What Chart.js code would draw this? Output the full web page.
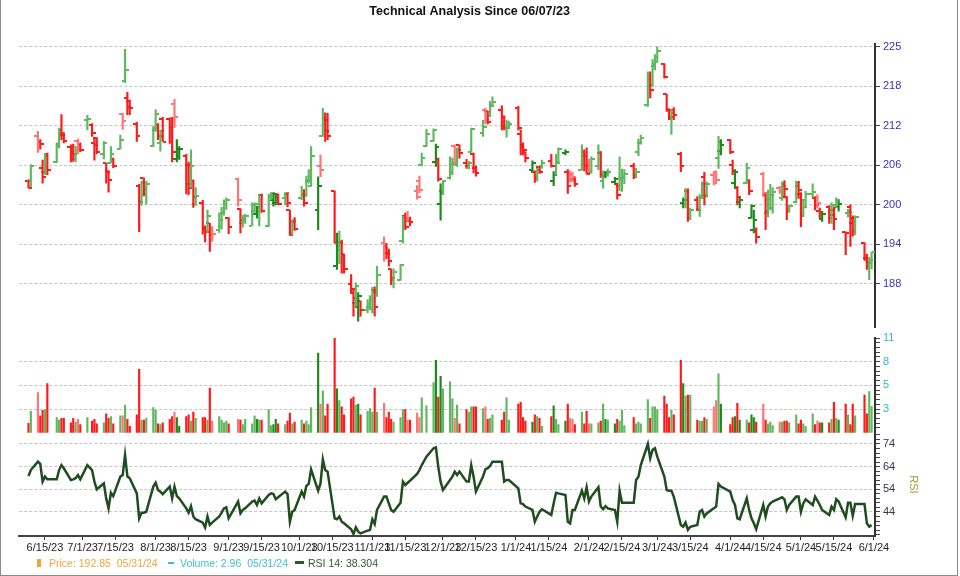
<!DOCTYPE html>
<html>
<head>
<meta charset="utf-8">
<script src="https://cdn.jsdelivr.net/npm/chart.js@4.4.1/dist/chart.umd.min.js"></script>
<style>
body { margin:0; background:#fff; }
#page { position:relative; width:960px; height:576px; overflow:hidden; font-family:"Liberation Sans", Arial, sans-serif; }
#frame { position:absolute; left:0; top:0; width:958px; height:576px; box-sizing:border-box; border-left:1px solid #8a8a8a; border-right:1px solid #8a8a8a; border-bottom:1px solid #8a8a8a; pointer-events:none; }
canvas { position:absolute; left:0; }
.lg { position:absolute; top:557px; font-size:10.5px; white-space:pre; line-height:12px; }
.mk { position:absolute; }
</style>
</head>
<body>
<div id="page">
  <canvas id="priceChart" width="960" height="332" style="top:0"></canvas>
  <canvas id="volChart" width="960" height="103" style="top:332px"></canvas>
  <canvas id="rsiChart" width="960" height="144" style="top:432px"></canvas>
  <div class="mk" style="left:37px;top:559px;width:4px;height:8px;background:#f2a43c"></div>
  <div class="lg" id="lgPrice" style="left:49px;color:#f2a43c"></div>
  <div class="mk" style="left:168px;top:562px;width:6px;height:2px;background:#3fbfcf"></div>
  <div class="lg" id="lgVol" style="left:180px;color:#3fbfcf"></div>
  <div class="mk" style="left:295px;top:561px;width:9px;height:3px;background:#2c5a2c"></div>
  <div class="lg" id="lgRsi" style="left:308px;color:#2c5a2c"></div>
  <div id="frame"></div>
</div>
<script>
// trading calendar
var firstDay = '2023-06-08';
var lastDay = '2024-05-31';
var holidays = ['2023-06-19', '2023-07-04', '2023-09-04', '2023-11-23', '2023-12-25',
	'2024-01-01', '2024-01-15', '2024-02-19', '2024-03-29', '2024-05-27'];

// x axis labels
var xTickDates = ['2023-06-15', '2023-07-01', '2023-07-15', '2023-08-01', '2023-08-15', '2023-09-01',
	'2023-09-15', '2023-10-01', '2023-10-15', '2023-11-01', '2023-11-15', '2023-12-01', '2023-12-15',
	'2024-01-01', '2024-01-15', '2024-02-01', '2024-02-15', '2024-03-01', '2024-03-15', '2024-04-01',
	'2024-04-15', '2024-05-01', '2024-05-15', '2024-06-01'];

// right axis ticks
var priceTicks = [188, 194.17, 200.33, 206.5, 212.67, 218.83, 225];
var priceTickLabels = ['188', '194', '200', '206', '212', '218', '225'];
var volTicks = [2.65, 5.3, 7.95, 10.6];
var volTickLabels = ['3', '5', '8', '11'];
var rsiTicks = [44, 54, 64, 74];
var rsiTickLabels = ['44', '54', '64', '74'];

var opens = [
	204.1, 204.0, 211.0, 210.2, 206.0, 205.5, 208.3, 207.0, 209.8, 212.0, 211.2, 209.4, 209.4, 207.5, 210.3, 209.7,
	213.5, 212.8, 210.0, 210.7, 208.3, 206.8, 205.6, 206.8, 207.5, 209.1, 214.5, 219.6, 217.0, 216.6, 213.0, 203.3, 200.9, 204.5, 202.0, 209.5,
	212.0, 212.8, 210.0, 213.8, 213.8, 212.5, 216.0, 207.5, 208.0, 208.0, 206.5, 203.5, 204.0, 200.5, 200.6, 196.7, 196.2, 197.4, 196.5, 196.3, 197.0, 199.0, 200.4,
	198.3, 204.4, 199.6, 197.5, 198.0, 197.0, 199.4, 198.8, 199.4, 201.9, 197.0, 201.6, 201.0, 200.6, 202.0, 201.4, 202.0, 199.5, 195.9, 197.6,
	201.4, 202.0, 201.8, 204.0, 203.2, 199.5, 206.3, 211.0, 213.9, 213.5, 202.4, 190.7, 193.2, 194.5, 192.6, 187.9, 186.5, 185.0, 184.4, 185.2, 183.8, 184.4,
	184.0, 187.0, 187.0, 194.3, 193.9, 192.8, 190.2, 188.5, 188.6, 194.6, 198.5, 198.3, 197.8, 202.5, 204.0, 206.5, 209.5, 210.3, 207.0, 207.5, 200.5,
	202.4, 204.5, 205.5, 209.5, 206.5, 209.7, 206.9, 206.3, 208.6, 208.3, 206.0, 211.5, 215.1, 214.9, 214.2, 215.9, 215.2, 214.0, 212.3, 212.4,
	215.5, 211.3, 209.6, 208.5, 205.8, 205.5, 204.3, 206.2, 206.2, 207.1, 204.0, 205.0, 207.0, 208.4, 205.5, 205.5, 205.2, 204.3, 205.8, 208.4, 208.0,
	206.6, 205.5, 206.3, 208.4, 204.0, 204.8, 205.2, 203.9, 203.5, 203.2, 204.5, 204.5, 206.4, 204.9, 208.6, 210.0, 215.9, 220.0, 219.0, 222.0,
	222.7, 222.4, 217.6, 215.3, 213.8, 215.2, 208.3, 200.6, 200.4, 202.5, 198.2, 201.1, 199.6, 201.6, 204.7, 201.8, 205.0, 205.5, 207.6, 208.7,
	210.4, 206.6, 203.7, 203.0, 200.8, 203.7, 204.2, 198.3, 196.4, 196.2, 205.2, 201.8, 199.0, 200.5, 199.8, 202.9, 201.4, 203.6, 201.5, 199.4, 200.8, 203.3,
	202.0, 199.0, 201.0, 202.0, 201.3, 201.5, 199.4, 198.1, 199.9, 198.2, 199.5, 199.8, 200.0, 196.0, 199.1, 200.0, 197.5, 196.0, 194.3, 192.0, 190.8, 191.2
];
var highs = [
	204.2, 206.6, 211.8, 210.5, 207.3, 208.3, 208.4, 210.0, 212.3, 214.4, 211.6, 209.7, 209.8, 209.5, 210.6, 210.0,
	214.3, 213.0, 210.7, 210.8, 210.2, 206.8, 205.6, 209.4, 207.6, 211.2, 214.6, 224.6, 217.9, 216.7, 213.2, 203.5, 204.0, 204.5, 204.0, 212.6,
	215.2, 213.0, 212.0, 214.0, 213.9, 214.0, 216.8, 210.5, 209.4, 208.2, 207.0, 208.9, 204.2, 203.0, 201.0, 197.0, 199.5, 197.4, 196.9, 199.0, 199.9, 201.1, 201.4,
	198.3, 204.5, 199.7, 198.7, 198.8, 200.6, 200.6, 200.1, 202.0, 202.0, 202.0, 202.2, 202.1, 201.9, 202.0, 202.2, 202.1, 199.5, 198.0, 198.3,
	203.2, 202.7, 204.8, 205.8, 209.4, 204.7, 208.1, 215.4, 214.7, 214.6, 202.5, 195.9, 196.2, 194.8, 192.6, 189.4, 187.3, 188.1, 186.6, 185.3, 185.5, 186.1,
	187.4, 187.5, 190.7, 195.3, 194.3, 193.4, 190.3, 190.3, 191.0, 198.5, 199.0, 199.3, 198.4, 203.3, 204.8, 208.4, 212.1, 212.2, 209.8, 207.6, 203.6,
	204.1, 207.8, 207.6, 209.7, 209.2, 209.7, 207.4, 207.1, 212.3, 208.4, 206.4, 213.5, 215.4, 215.0, 216.5, 217.2, 215.8, 214.2, 213.5, 213.4,
	215.7, 212.0, 210.0, 208.6, 207.2, 205.6, 206.0, 206.4, 207.3, 208.2, 205.5, 208.2, 209.2, 208.9, 205.8, 205.6, 205.4, 204.5, 209.7, 208.9, 209.2,
	207.4, 207.8, 209.7, 208.6, 205.6, 205.5, 205.9, 204.6, 203.7, 207.8, 205.9, 205.8, 206.8, 206.0, 210.6, 211.2, 221.1, 221.1, 223.0, 223.8,
	225.0, 222.4, 217.6, 215.3, 215.2, 215.5, 208.5, 201.4, 202.9, 202.8, 199.8, 201.6, 201.9, 203.9, 205.4, 203.9, 205.3, 205.6, 211.0, 210.5,
	210.5, 207.3, 205.8, 203.2, 201.4, 206.8, 204.2, 200.3, 199.5, 196.7, 205.4, 202.0, 202.6, 203.5, 203.0, 203.2, 203.9, 204.1, 201.6, 200.3, 204.0, 203.9,
	202.2, 201.1, 202.4, 203.6, 201.5, 201.9, 199.8, 199.3, 200.2, 200.6, 200.0, 201.4, 200.9, 196.1, 199.6, 200.3, 198.6, 198.6, 194.4, 192.6, 192.1, 192.9
];
var lows = [
	202.9, 203.1, 208.5, 209.0, 203.7, 205.0, 205.0, 206.9, 209.2, 210.5, 210.0, 207.0, 207.1, 207.0, 208.3, 208.6,
	212.0, 211.0, 207.3, 208.3, 207.5, 203.7, 202.3, 206.8, 206.1, 209.0, 212.1, 219.4, 214.4, 214.4, 210.2, 196.1, 200.2, 201.7, 200.4, 209.4,
	211.8, 210.5, 208.7, 210.2, 209.9, 207.0, 212.4, 207.0, 207.4, 202.0, 201.9, 203.0, 199.9, 200.2, 195.7, 194.5, 196.0, 193.0, 194.6, 196.0, 196.5, 198.7, 199.6,
	195.8, 200.1, 195.9, 196.8, 197.4, 197.0, 199.1, 198.2, 197.0, 199.1, 196.9, 201.1, 200.1, 200.3, 200.3, 200.3, 200.0, 195.5, 195.6, 196.3,
	201.1, 200.1, 201.6, 203.7, 203.2, 196.4, 204.7, 211.0, 210.2, 210.5, 194.3, 190.2, 191.1, 189.6, 189.6, 186.6, 182.9, 184.4, 182.1, 182.9, 183.4, 184.0,
	183.4, 182.9, 186.0, 191.5, 191.9, 190.7, 187.8, 187.3, 188.5, 194.3, 196.4, 197.7, 197.0, 201.2, 202.2, 206.4, 209.4, 210.2, 206.3, 204.0, 197.9,
	201.9, 204.3, 205.0, 206.7, 206.3, 207.6, 206.0, 205.9, 208.5, 205.3, 204.8, 211.0, 213.0, 212.9, 214.1, 215.7, 212.0, 212.0, 210.9, 212.2,
	212.0, 208.1, 208.1, 207.0, 205.4, 203.8, 204.0, 205.2, 206.0, 206.2, 203.3, 205.0, 206.9, 208.1, 202.1, 203.9, 203.9, 203.2, 205.7, 205.6, 205.1,
	205.5, 205.2, 205.8, 204.6, 202.9, 204.5, 204.8, 203.7, 201.2, 202.5, 202.4, 203.6, 204.4, 204.6, 208.0, 209.8, 215.7, 217.0, 218.8, 221.4,
	222.6, 220.1, 214.9, 213.6, 211.3, 213.6, 205.5, 199.8, 199.8, 197.7, 198.0, 199.4, 198.5, 201.3, 200.3, 201.5, 203.4, 203.9, 206.0, 208.1,
	208.3, 205.0, 202.9, 200.3, 199.8, 203.6, 201.9, 198.2, 195.9, 194.3, 201.6, 196.4, 198.4, 199.5, 199.0, 202.1, 201.0, 201.4, 198.0, 199.1, 200.6, 201.3,
	196.9, 198.5, 199.8, 201.5, 199.5, 199.8, 198.2, 197.7, 197.4, 197.4, 196.4, 199.8, 199.3, 192.5, 198.4, 193.8, 195.4, 195.6, 191.6, 190.2, 188.6, 190.3
];
var closes = [
	203.0, 206.4, 210.2, 209.8, 204.6, 208.0, 205.8, 209.7, 211.5, 211.2, 210.3, 208.6, 208.2, 208.8, 209.1, 208.8,
	213.7, 211.5, 209.7, 208.5, 209.9, 205.5, 204.2, 208.2, 206.3, 210.4, 213.4, 221.4, 215.6, 215.5, 211.1, 200.7, 203.7, 202.7, 203.5, 212.3,
	214.5, 211.0, 211.8, 210.2, 210.1, 208.6, 214.0, 209.0, 209.0, 206.5, 203.0, 206.4, 201.5, 201.7, 196.4, 196.0, 198.6, 195.6, 195.8, 198.0, 199.0, 200.4, 201.0,
	196.9, 201.0, 197.9, 198.2, 198.6, 200.3, 200.5, 199.9, 201.9, 199.4, 201.7, 202.1, 202.0, 201.5, 200.5, 202.1, 200.6, 195.6, 197.7, 196.6,
	201.7, 200.6, 204.2, 204.6, 207.9, 203.2, 205.8, 212.8, 211.8, 211.0, 194.4, 193.8, 194.3, 192.5, 190.3, 187.1, 185.7, 187.6, 186.1, 183.8, 184.8, 185.6,
	186.7, 184.4, 189.4, 193.6, 192.6, 191.5, 188.9, 189.8, 190.9, 198.2, 196.8, 197.9, 197.6, 201.5, 202.6, 207.6, 211.4, 212.0, 209.3, 204.3, 202.1,
	204.1, 206.7, 206.8, 207.0, 208.8, 208.4, 206.3, 206.8, 212.2, 206.1, 205.3, 212.4, 213.6, 213.3, 215.7, 216.4, 212.6, 212.3, 212.9, 213.0,
	212.3, 209.3, 208.8, 207.7, 206.8, 204.6, 205.8, 205.4, 206.9, 206.4, 204.9, 206.8, 209.1, 208.6, 203.2, 204.2, 204.6, 203.5, 208.5, 206.4, 205.2,
	205.6, 207.5, 208.6, 205.2, 205.4, 205.3, 205.5, 204.4, 201.8, 204.3, 204.7, 205.1, 204.7, 205.5, 210.0, 210.8, 220.5, 218.2, 222.4, 223.4,
	224.3, 220.3, 215.2, 214.0, 214.7, 214.3, 206.3, 201.0, 202.3, 198.2, 199.5, 199.5, 201.4, 203.5, 201.7, 203.6, 203.7, 204.2, 210.2, 209.7,
	208.5, 205.6, 205.5, 201.6, 201.1, 206.0, 202.4, 200.1, 197.9, 195.3, 202.1, 199.4, 201.2, 201.8, 202.3, 202.5, 203.3, 202.8, 199.5, 200.1, 203.8, 202.6,
	198.6, 200.0, 202.0, 202.3, 200.3, 200.6, 199.0, 198.9, 198.7, 200.3, 198.1, 201.0, 200.5, 195.9, 199.2, 198.2, 196.2, 198.4, 191.8, 191.3, 191.6, 192.85
];
var volumes = [
	1.05, 2.4, 4.5, 1.9, 2.5, 2.6, 5.5, 1.7, 1.4, 1.6, 1.6, 1.1, 1.6, 1.2, 1.5, 0.9,
	1.7, 1.3, 1.5, 1.0, 1.1, 2.1, 1.6, 1.8, 1.0, 1.9, 1.9, 3.1, 1.5, 0.7, 2.0, 7.1, 1.4, 1.4, 1.6, 2.8,
	2.5, 1.0, 0.9, 1.1, 1.5, 1.8, 2.3, 1.7, 0.7, 1.8, 2.0, 1.3, 2.3, 1.6, 1.7, 1.7, 1.4, 5.0, 1.3, 1.8, 1.4, 1.1, 1.3,
	1.0, 1.5, 1.4, 0.9, 1.5, 1.0, 1.9, 1.5, 1.4, 1.4, 2.6, 0.8, 0.9, 1.5, 1.0, 0.9, 1.3, 2.2, 1.0, 1.2,
	1.4, 1.0, 1.3, 0.9, 2.8, 8.9, 3.2, 4.7, 1.9, 3.2, 10.7, 4.9, 3.6, 2.9, 2.0, 3.8, 4.0, 3.1, 3.2, 2.0, 2.4, 2.7,
	2.3, 5.0, 2.3, 3.3, 1.7, 2.3, 1.5, 1.2, 1.7, 2.6, 2.6, 1.4, 1.4, 2.2, 1.7, 3.9, 3.0, 5.6, 8.1, 4.0, 6.3,
	4.9, 5.7, 3.8, 1.6, 3.1, 1.0, 2.6, 2.3, 2.9, 2.9, 2.9, 2.7, 2.9, 1.5, 1.6, 2.0, 1.4, 2.3, 3.9, 1.4,
	3.2, 3.4, 1.7, 1.3, 1.2, 2.0, 1.8, 1.6, 0.7, 1.8, 3.0, 1.5, 0.9, 1.3, 3.2, 1.6, 1.5, 0.9, 2.3, 1.0, 2.4,
	1.0, 1.0, 1.1, 1.3, 3.2, 1.5, 1.4, 1.0, 1.5, 1.3, 2.5, 0.8, 1.7, 1.0, 1.2, 1.0, 3.7, 1.6, 2.9, 2.9,
	2.6, 4.1, 3.2, 1.7, 2.5, 2.0, 8.1, 5.5, 4.1, 4.2, 4.2, 1.4, 1.3, 1.3, 1.7, 1.5, 2.9, 3.6, 6.6, 3.2,
	0.9, 1.7, 1.8, 3.3, 1.4, 1.4, 1.1, 2.0, 1.7, 1.2, 3.2, 1.4, 1.0, 1.2, 0.8, 1.2, 1.2, 1.3, 1.3, 1.1, 2.0, 1.0,
	1.4, 1.0, 0.7, 2.1, 0.9, 1.3, 1.1, 1.1, 1.1, 1.5, 3.4, 1.6, 1.4, 3.2, 2.0, 0.9, 3.2, 1.9, 4.2, 2.1, 4.6, 2.96
];
var rsi14 = [
	59.9, 62.5, 66.2, 65.2, 57.4, 59.6, 58.4, 58.4, 62.5, 64.7, 63.3, 58.1, 58.4, 58.9, 60.3, 58.4,
	64.7, 62.5, 57.4, 54.0, 56.6, 50.0, 45.6, 52.5, 51.0, 59.6, 60.3, 69.1, 59.6, 58.9, 52.2, 41.2, 43.7, 43.7, 44.1, 55.2,
	56.9, 53.7, 53.0, 51.9, 55.2, 50.0, 55.2, 51.0, 50.0, 45.6, 43.7, 46.6, 42.0, 40.8, 39.3, 37.2, 42.0, 38.3, 39.3, 42.0, 43.7, 45.6, 46.1,
	41.2, 48.6, 43.4, 44.9, 45.6, 48.6, 49.0, 47.1, 50.0, 47.8, 51.5, 52.2, 51.9, 49.6, 50.5, 53.0, 51.9, 39.7, 44.1, 44.9,
	53.0, 50.8, 55.5, 56.4, 62.8, 53.4, 56.6, 67.2, 62.5, 61.8, 41.2, 40.8, 42.0, 39.7, 39.0, 36.4, 34.3, 37.2, 35.3, 34.6, 35.8, 36.1,
	40.8, 38.7, 44.9, 50.8, 50.8, 47.8, 44.9, 44.1, 48.1, 57.4, 55.9, 56.9, 57.8, 60.8, 62.5, 64.7, 68.4, 72.1, 72.5, 64.0, 57.4,
	53.7, 58.1, 59.6, 61.8, 60.3, 61.8, 57.4, 57.4, 64.7, 59.6, 53.0, 59.6, 62.8, 63.3, 64.3, 66.2, 66.2, 57.4, 58.1, 58.1,
	54.4, 47.8, 47.5, 46.4, 44.9, 39.7, 42.0, 44.1, 45.2, 42.7, 47.8, 52.5, 52.2, 51.5, 39.7, 39.0, 44.9, 44.9, 53.4, 50.0, 54.9,
	48.6, 50.8, 54.9, 46.4, 45.2, 46.6, 45.6, 44.9, 39.7, 53.4, 48.1, 48.1, 48.1, 58.1, 59.6, 64.7, 74.0, 67.7, 71.4, 72.1,
	68.4, 59.6, 53.7, 53.4, 53.4, 50.8, 38.3, 37.5, 39.3, 36.1, 37.5, 38.3, 44.1, 44.9, 42.0, 43.4, 45.6, 46.4, 56.4, 55.2,
	53.0, 49.3, 47.1, 41.2, 40.8, 50.0, 44.9, 41.2, 39.0, 36.4, 47.1, 42.0, 46.4, 47.8, 48.6, 50.0, 50.5, 49.6, 44.9, 47.1, 50.8, 50.8,
	44.1, 47.8, 49.6, 47.1, 50.8, 49.0, 47.1, 44.9, 42.7, 46.4, 44.9, 49.6, 48.6, 41.6, 48.1, 48.1, 42.3, 47.5, 47.5, 39.0, 37.5, 38.304
];

var GREEN = '#1b8a1b', GREEN_LT = '#5fb85f', RED = '#ff1a1a', RED_LT = '#ff7474';
var FONT = '"Liberation Sans", Arial, sans-serif';

// build trading days
var tradeDates = [];
for (var t = Date.parse(firstDay); t <= Date.parse(lastDay); t += 864e5) {
	var d = new Date(t);
	var iso = d.toISOString().slice(0, 10);
	if (d.getUTCDay() == 0 || d.getUTCDay() == 6 || holidays.indexOf(iso) >= 0) continue;
	tradeDates.push(iso);
}
var origin = Date.parse('2023-06-15');
function dayOf(iso) { return (Date.parse(iso) - origin) / 864e5; }
function shortDate(iso) {
	var p = iso.split('-');
	return (+p[1]) + '/' + (+p[2]) + '/' + p[0].slice(2);
}
var days = tradeDates.map(dayOf);
var xMin = -10.9, xMax = 352.45;

var xLabelOf = {};
xTickDates.forEach(function(s) { xLabelOf[dayOf(s)] = shortDate(s); });

// colours: red/green by open vs close, paler when the close is above the day before
var barColors = closes.map(function(c, i) {
	var up = c >= opens[i];
	var light = i > 0 && c > closes[i - 1];
	return up ? (light ? GREEN_LT : GREEN) : (light ? RED_LT : RED);
});

function tickImage(color, left) {
	var c = document.createElement('canvas');
	c.width = 7; c.height = 2;
	var g = c.getContext('2d');
	g.fillStyle = color;
	g.fillRect(left ? 0 : 4, 0, 3, 2);
	return c;
}
var tickImgs = {};
[GREEN, GREEN_LT, RED, RED_LT].forEach(function(col) {
	tickImgs[col] = { open: tickImage(col, true), close: tickImage(col, false) };
});

function minorTicks(from, to, step) {
	var out = [];
	for (var v = from; v <= to + 1e-6; v += step) out.push(+v.toFixed(3));
	return out;
}

function rightAxis(min, max, major, labels, color, minor, gridSkipTop) {
	var all = major.concat(minor.filter(function(v) {
		return major.every(function(m) { return Math.abs(m - v) > 0.05; });
	}));
	return {
		type: 'linear',
		position: 'right',
		min: min,
		max: max,
		afterFit: function(s) {
			s.width = 45;
			s.paddingTop = 0;
			s.paddingBottom = 0;
		},
		afterBuildTicks: function(s) {
			s.ticks = all.map(function(v) { return { value: v }; }).sort(function(a, b) { return a.value - b.value; });
		},
		ticks: {
			autoSkip: false,
			padding: 3,
			color: color,
			font: { family: FONT, size: 11 },
			callback: function(v) {
				var k = major.indexOf(v);
				return k >= 0 ? labels[k] : '';
			}
		},
		grid: {
			drawTicks: true,
			tickLength: 5,
			tickColor: '#444',
			lineWidth: 1,
			color: function(ctx) {
				var v = ctx.tick ? ctx.tick.value : null;
				if (major.indexOf(v) < 0) return 'rgba(0,0,0,0)';
				if (gridSkipTop && v == major[major.length - 1]) return 'rgba(0,0,0,0)';
				return '#c4c4c4';
			}
		},
		border: { display: true, color: '#333', width: 2, dash: [3, 2] }
	};
}

var hiddenX = { type: 'linear', min: xMin, max: xMax, display: false, offset: false };
var padLR = { left: 19.3, right: 40 };

// price panel
new Chart(document.getElementById('priceChart').getContext('2d'), {
	type: 'bar',
	data: {
		datasets: [{
			type: 'bar',
			data: days.map(function(x, i) { return { x: x, y: [lows[i], highs[i]] }; }),
			backgroundColor: barColors,
			borderWidth: 0,
			barThickness: 1.5,
			grouped: false
		}, {
			type: 'scatter',
			data: days.map(function(x, i) { return { x: x, y: opens[i] }; }),
			pointStyle: barColors.map(function(c) { return tickImgs[c].open; }),
			pointRadius: 3
		}, {
			type: 'scatter',
			data: days.map(function(x, i) { return { x: x, y: closes[i] }; }),
			pointStyle: barColors.map(function(c) { return tickImgs[c].close; }),
			pointRadius: 3
		}]
	},
	options: {
		responsive: false,
		animation: false,
		events: [],
		layout: { padding: { left: padLR.left, right: padLR.right, top: 0, bottom: 4 } },
		plugins: {
			legend: { display: false },
			tooltip: { enabled: false },
			title: {
				display: true,
				text: 'Technical Analysis Since 06/07/23',
				color: '#111',
				font: { family: FONT, size: 12.5, weight: 'bold' },
				padding: { top: 4, bottom: 25 }
			}
		},
		scales: {
			x: hiddenX,
			y: rightAxis(181.2, 225.45, priceTicks, priceTickLabels, '#3434b4', [], false)
		}
	}
});

// volume panel
new Chart(document.getElementById('volChart').getContext('2d'), {
	type: 'bar',
	data: {
		datasets: [{
			data: days.map(function(x, i) { return { x: x, y: volumes[i] }; }),
			backgroundColor: barColors,
			borderWidth: 0,
			barThickness: 1.5
		}]
	},
	options: {
		responsive: false,
		animation: false,
		events: [],
		layout: { padding: { left: padLR.left, right: padLR.right, top: 6, bottom: 2.3 } },
		plugins: { legend: { display: false }, tooltip: { enabled: false } },
		scales: {
			x: hiddenX,
			y: rightAxis(0, 10.6, volTicks, volTickLabels, '#36b8c8', minorTicks(0.53, 10.6, 0.53), true)
		}
	}
});

// RSI panel
new Chart(document.getElementById('rsiChart').getContext('2d'), {
	type: 'line',
	data: {
		datasets: [{
			data: days.map(function(x, i) { return { x: x, y: rsi14[i] }; }),
			borderColor: '#1f4d1f',
			borderWidth: 2.5,
			pointRadius: 0,
			tension: 0,
			fill: false
		}]
	},
	options: {
		responsive: false,
		animation: false,
		events: [],
		layout: { padding: { left: padLR.left, right: padLR.right, top: 1, bottom: 0 } },
		plugins: { legend: { display: false }, tooltip: { enabled: false } },
		scales: {
			x: {
				type: 'linear',
				min: xMin,
				max: xMax,
				offset: false,
				afterFit: function(s) { s.height = 40; },
				afterBuildTicks: function(s) {
					s.ticks = xTickDates.map(function(iso) { return { value: dayOf(iso) }; });
				},
				ticks: {
					autoSkip: false,
					maxRotation: 0,
					padding: 1,
					color: '#222',
					font: { family: FONT, size: 11 },
					callback: function(v) { return xLabelOf[v] || ''; }
				},
				grid: { drawOnChartArea: false, drawTicks: true, tickLength: 4, tickColor: '#333' },
				border: { display: true, color: '#444', width: 2 }
			},
			y: (function() {
				var ax = rightAxis(33.41, 78.85, rsiTicks, rsiTickLabels, '#33334d', minorTicks(34, 78, 2), false);
				ax.title = {
					display: true,
					text: 'RSI',
					color: '#b0923a',
					font: { family: FONT, size: 11 },
					padding: { top: 0, bottom: 2 }
				};
				return ax;
			})()
		}
	}
});

// legend text from last values
var lastIso = tradeDates[tradeDates.length - 1].split('-');
var lastStamp = lastIso[1] + '/' + lastIso[2] + '/' + lastIso[0].slice(2);
document.getElementById('lgPrice').textContent = 'Price: ' + closes[closes.length - 1] + '  ' + lastStamp;
document.getElementById('lgVol').textContent = 'Volume: ' + volumes[volumes.length - 1] + '  ' + lastStamp;
document.getElementById('lgRsi').textContent = 'RSI 14: ' + rsi14[rsi14.length - 1];
</script>
</body>
</html>
